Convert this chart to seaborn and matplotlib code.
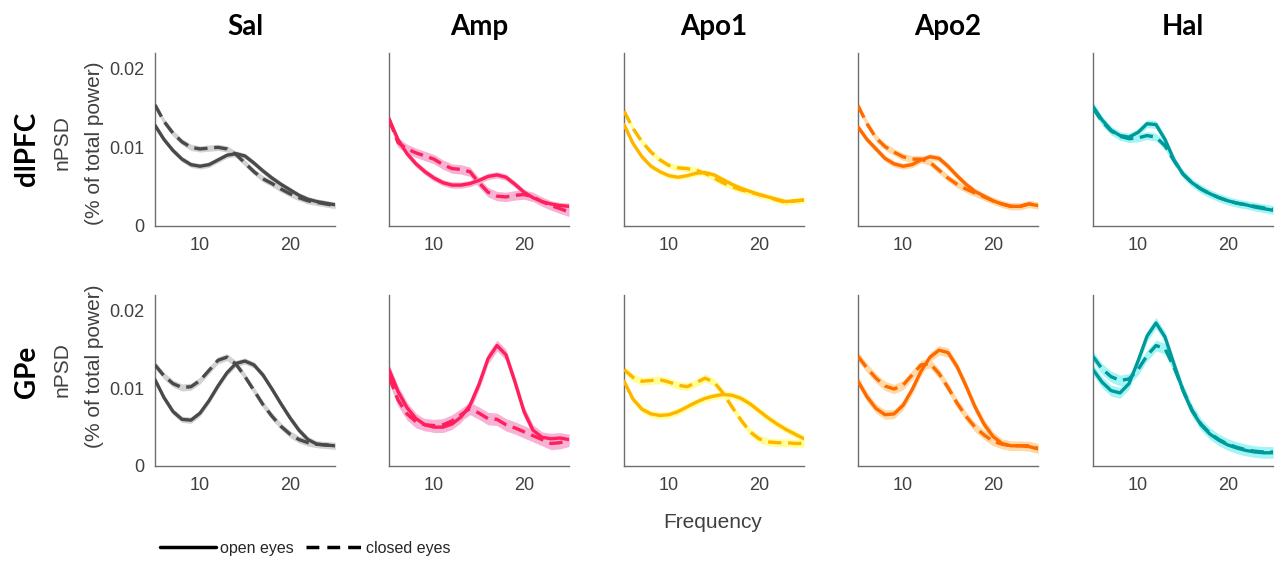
import numpy as np
import pandas as pd
import matplotlib
matplotlib.use("Agg")
import matplotlib.pyplot as plt
from matplotlib.lines import Line2D
import seaborn as sns

# ---------------- data (nPSD in units of 1e-3) ----------------
freq = list(range(5, 26))
drugs = ["Sal", "Amp", "Apo1", "Apo2", "Hal"]
regions = ["dlPFC", "GPe"]
SCALE = 1e-3

sal_dlpfc_open   = [12.8, 11.0, 9.6, 8.5, 7.8, 7.6, 7.8, 8.4, 9.0, 9.2, 8.9, 8.0, 7.0, 6.1, 5.3, 4.6, 3.9, 3.4, 3.1, 2.9, 2.7]
sal_dlpfc_closed = [15.4, 13.3, 11.8, 10.7, 10.0, 9.8, 9.9, 10.0, 9.8, 9.1, 8.0, 6.9, 6.0, 5.4, 4.7, 4.1, 3.6, 3.2, 3.0, 2.8, 2.6]
amp_dlpfc_open   = [13.6, 11.0, 9.2, 7.9, 6.9, 6.1, 5.5, 5.2, 5.2, 5.4, 5.8, 6.3, 6.5, 6.2, 5.3, 4.3, 3.6, 3.1, 2.8, 2.6, 2.5]
amp_dlpfc_closed = [13.6, 10.6, 9.8, 9.3, 8.9, 8.5, 7.8, 7.3, 7.2, 6.9, 5.5, 4.3, 3.8, 3.7, 3.9, 4.0, 3.7, 3.1, 2.6, 2.2, 1.8]
apo1_dlpfc_open   = [12.9, 10.5, 8.8, 7.6, 6.9, 6.4, 6.2, 6.4, 6.7, 6.8, 6.5, 5.9, 5.3, 4.8, 4.4, 4.0, 3.7, 3.4, 3.1, 3.2, 3.3]
apo1_dlpfc_closed = [14.6, 12.4, 10.7, 9.4, 8.4, 7.7, 7.4, 7.3, 7.1, 6.7, 6.1, 5.5, 5.0, 4.6, 4.3, 4.0, 3.7, 3.3, 3.0, 3.2, 3.3]
apo2_dlpfc_open   = [12.6, 11.0, 9.8, 8.6, 7.9, 7.6, 7.8, 8.4, 8.8, 8.6, 7.6, 6.4, 5.3, 4.4, 3.8, 3.2, 2.8, 2.5, 2.5, 2.8, 2.6]
apo2_dlpfc_closed = [15.3, 13.0, 11.2, 10.1, 9.4, 8.8, 8.5, 8.5, 8.1, 7.1, 6.1, 5.3, 4.7, 4.2, 3.7, 3.2, 2.8, 2.5, 2.5, 2.8, 2.6]
hal_dlpfc_open   = [15.2, 13.5, 12.2, 11.5, 11.3, 11.9, 13.0, 12.9, 11.0, 8.4, 6.6, 5.5, 4.7, 4.1, 3.6, 3.2, 2.9, 2.7, 2.4, 2.2, 2.0]
hal_dlpfc_closed = [15.0, 13.3, 12.1, 11.4, 11.1, 11.2, 11.5, 11.3, 10.2, 8.3, 6.6, 5.5, 4.7, 4.1, 3.6, 3.2, 2.9, 2.7, 2.5, 2.3, 2.1]

sal_gpe_open   = [11.1, 8.8, 7.0, 6.0, 5.9, 6.8, 8.4, 10.3, 12.0, 13.2, 13.5, 13.0, 11.7, 9.9, 8.0, 6.2, 4.6, 3.4, 2.8, 2.7, 2.6]
sal_gpe_closed = [13.0, 11.6, 10.6, 10.1, 10.2, 11.0, 12.3, 13.6, 14.0, 13.1, 11.5, 9.7, 7.9, 6.4, 5.1, 4.1, 3.4, 3.0, 2.8, 2.7, 2.6]
amp_gpe_open   = [12.4, 9.6, 7.5, 6.1, 5.3, 5.0, 5.0, 5.4, 6.3, 7.8, 10.5, 13.8, 15.5, 14.3, 10.8, 7.0, 4.6, 3.7, 3.5, 3.6, 3.4]
amp_gpe_closed = [11.5, 8.5, 6.7, 5.7, 5.3, 5.2, 5.3, 5.8, 6.6, 7.4, 6.8, 6.1, 6.0, 5.3, 4.9, 4.4, 3.9, 3.4, 2.9, 3.0, 3.3]
apo1_gpe_open   = [10.9, 8.6, 7.3, 6.7, 6.5, 6.6, 7.0, 7.6, 8.2, 8.7, 9.0, 9.2, 9.1, 8.7, 8.0, 7.1, 6.2, 5.4, 4.7, 4.1, 3.5]
apo1_gpe_closed = [12.4, 11.4, 10.9, 11.0, 11.1, 10.8, 10.4, 10.2, 10.7, 11.3, 10.8, 9.4, 7.6, 5.9, 4.4, 3.5, 3.1, 3.0, 3.0, 2.9, 2.9]
apo2_gpe_open   = [10.9, 8.9, 7.4, 6.6, 6.7, 7.8, 9.8, 12.2, 14.0, 14.9, 14.6, 12.8, 10.3, 7.6, 5.4, 3.8, 2.9, 2.6, 2.6, 2.5, 2.2]
apo2_gpe_closed = [14.1, 12.6, 11.3, 10.3, 9.9, 10.4, 11.7, 13.0, 13.2, 11.9, 10.1, 8.1, 6.4, 5.0, 4.0, 3.2, 2.8, 2.6, 2.6, 2.6, 2.3]
hal_gpe_open   = [12.4, 10.8, 9.7, 9.4, 10.6, 13.5, 16.7, 18.4, 16.6, 13.1, 9.7, 7.1, 5.3, 4.1, 3.3, 2.7, 2.3, 2.0, 1.8, 1.7, 1.7]
hal_gpe_closed = [14.1, 12.5, 11.5, 11.0, 11.2, 12.4, 14.2, 15.5, 15.1, 12.7, 9.8, 7.2, 5.4, 4.2, 3.4, 2.8, 2.4, 2.1, 1.9, 1.8, 1.8]

# typical half-width of the shaded error band (1e-3 units), per drug/region/condition
sem_open   = {"dlPFC": [0.35, 0.4, 0.35, 0.4, 0.5], "GPe": [0.4, 0.7, 0.45, 0.6, 0.7]}
sem_closed = {"dlPFC": [0.4, 0.6, 0.4, 0.45, 0.5], "GPe": [0.45, 0.8, 0.5, 0.6, 0.7]}

line_colors  = ["#4a4a4a", "#ff1f5a", "#ffb400", "#ff6a00", "#00999a"]
shade_colors = ["#d2d2d2", "#f7b3d6", "#ffff99", "#ffd9a6", "#a3f5f5"]

series = {
    ("dlPFC", "Sal"): (sal_dlpfc_open, sal_dlpfc_closed),
    ("dlPFC", "Amp"): (amp_dlpfc_open, amp_dlpfc_closed),
    ("dlPFC", "Apo1"): (apo1_dlpfc_open, apo1_dlpfc_closed),
    ("dlPFC", "Apo2"): (apo2_dlpfc_open, apo2_dlpfc_closed),
    ("dlPFC", "Hal"): (hal_dlpfc_open, hal_dlpfc_closed),
    ("GPe", "Sal"): (sal_gpe_open, sal_gpe_closed),
    ("GPe", "Amp"): (amp_gpe_open, amp_gpe_closed),
    ("GPe", "Apo1"): (apo1_gpe_open, apo1_gpe_closed),
    ("GPe", "Apo2"): (apo2_gpe_open, apo2_gpe_closed),
    ("GPe", "Hal"): (hal_gpe_open, hal_gpe_closed),
}

# ---------------- style ----------------
sns.set_style("white")
plt.rcParams["font.family"] = ["Liberation Sans", "DejaVu Sans"]

W, H = 1275, 561
fig = plt.figure(figsize=(W / 100, H / 100), dpi=100)

col_left = [155, 389, 624, 858, 1093]
ax_w = 180
row_top = [53, 295]
row_bot = [226, 466]
text_gray = "#404040"
axis_gray = "#6e6e6e"
dash = (0, (4, 2.0))

for r, region in enumerate(regions):
    for c, drug in enumerate(drugs):
        x0 = col_left[c]
        ax = fig.add_axes([x0 / W, 1 - row_bot[r] / H, ax_w / W, (row_bot[r] - row_top[r]) / H])
        o, cl = series[(region, drug)]
        o = np.array(o) * SCALE
        cl = np.array(cl) * SCALE
        so = sem_open[region][c] * SCALE
        sc = sem_closed[region][c] * SCALE
        ax.fill_between(freq, cl - sc, cl + sc, color=shade_colors[c], lw=0, zorder=1)
        ax.fill_between(freq, o - so, o + so, color=shade_colors[c], lw=0, zorder=1)
        df = pd.DataFrame({"Frequency": freq, "open": o, "closed": cl})
        sns.lineplot(data=df, x="Frequency", y="closed", ax=ax, color=line_colors[c],
                     lw=2.4, linestyle=dash, zorder=3, solid_joinstyle="round",
                     dash_joinstyle="round")
        sns.lineplot(data=df, x="Frequency", y="open", ax=ax, color=line_colors[c],
                     lw=2.4, zorder=3, solid_joinstyle="round")
        ax.set_xlim(5, 25)
        ax.set_ylim(0, 0.022)
        ax.set_xlabel("")
        ax.set_ylabel("")
        ax.set_xticks([10, 20])
        ax.set_xticklabels(["10", "20"])
        if c == 0:
            ax.set_yticks([0, 0.01, 0.02])
            ax.set_yticklabels(["0", "0.01", "0.02"])
        else:
            ax.set_yticks([])
        for s in ["top", "right"]:
            ax.spines[s].set_visible(False)
        for s in ["left", "bottom"]:
            ax.spines[s].set_color(axis_gray)
            ax.spines[s].set_linewidth(1.0)
        ax.tick_params(direction="in", length=3.5, width=0.8, color=axis_gray,
                       labelsize=13, labelcolor=text_gray, pad=8)
        ax.set_facecolor("none")
        if r == 0:
            fig.text((x0 + ax_w / 2) / W, 1 - 27 / H, drug, ha="center", va="center",
                     fontsize=20, fontweight="bold", family=["Lato", "DejaVu Sans"], color="black")

# row labels
row_centers = [149, 372]
for r, region in enumerate(regions):
    fig.text(27 / W, 1 - row_centers[r] / H, region, rotation=90, ha="center", va="center",
             fontsize=20, fontweight="bold", family=["Lato", "DejaVu Sans"], color="black")
    fig.text(62 / W, 1 - (143 if r == 0 else 370) / H, "nPSD", rotation=90, ha="center", va="center",
             fontsize=15, color=text_gray)
    fig.text(95 / W, 1 - (143 if r == 0 else 366) / H, "(% of total power)", rotation=90,
             ha="center", va="center", fontsize=15, color=text_gray)

fig.text(713 / W, 1 - 522 / H, "Frequency", ha="center", va="center", fontsize=15, color=text_gray)

handles = [Line2D([], [], color="black", lw=2.5),
           Line2D([], [], color="black", lw=2.5, linestyle=(0, (3.7, 2.3)))]
fig.legend(handles, ["open eyes", "closed eyes"], loc="center left",
           bbox_to_anchor=(160 / W, 1 - 548 / H), ncol=2, frameon=False,
           handlelength=3.5, handletextpad=0.25, columnspacing=0.8,
           borderpad=0, borderaxespad=0, fontsize=11.5)

fig.savefig("out.png", dpi=100, facecolor="white")
